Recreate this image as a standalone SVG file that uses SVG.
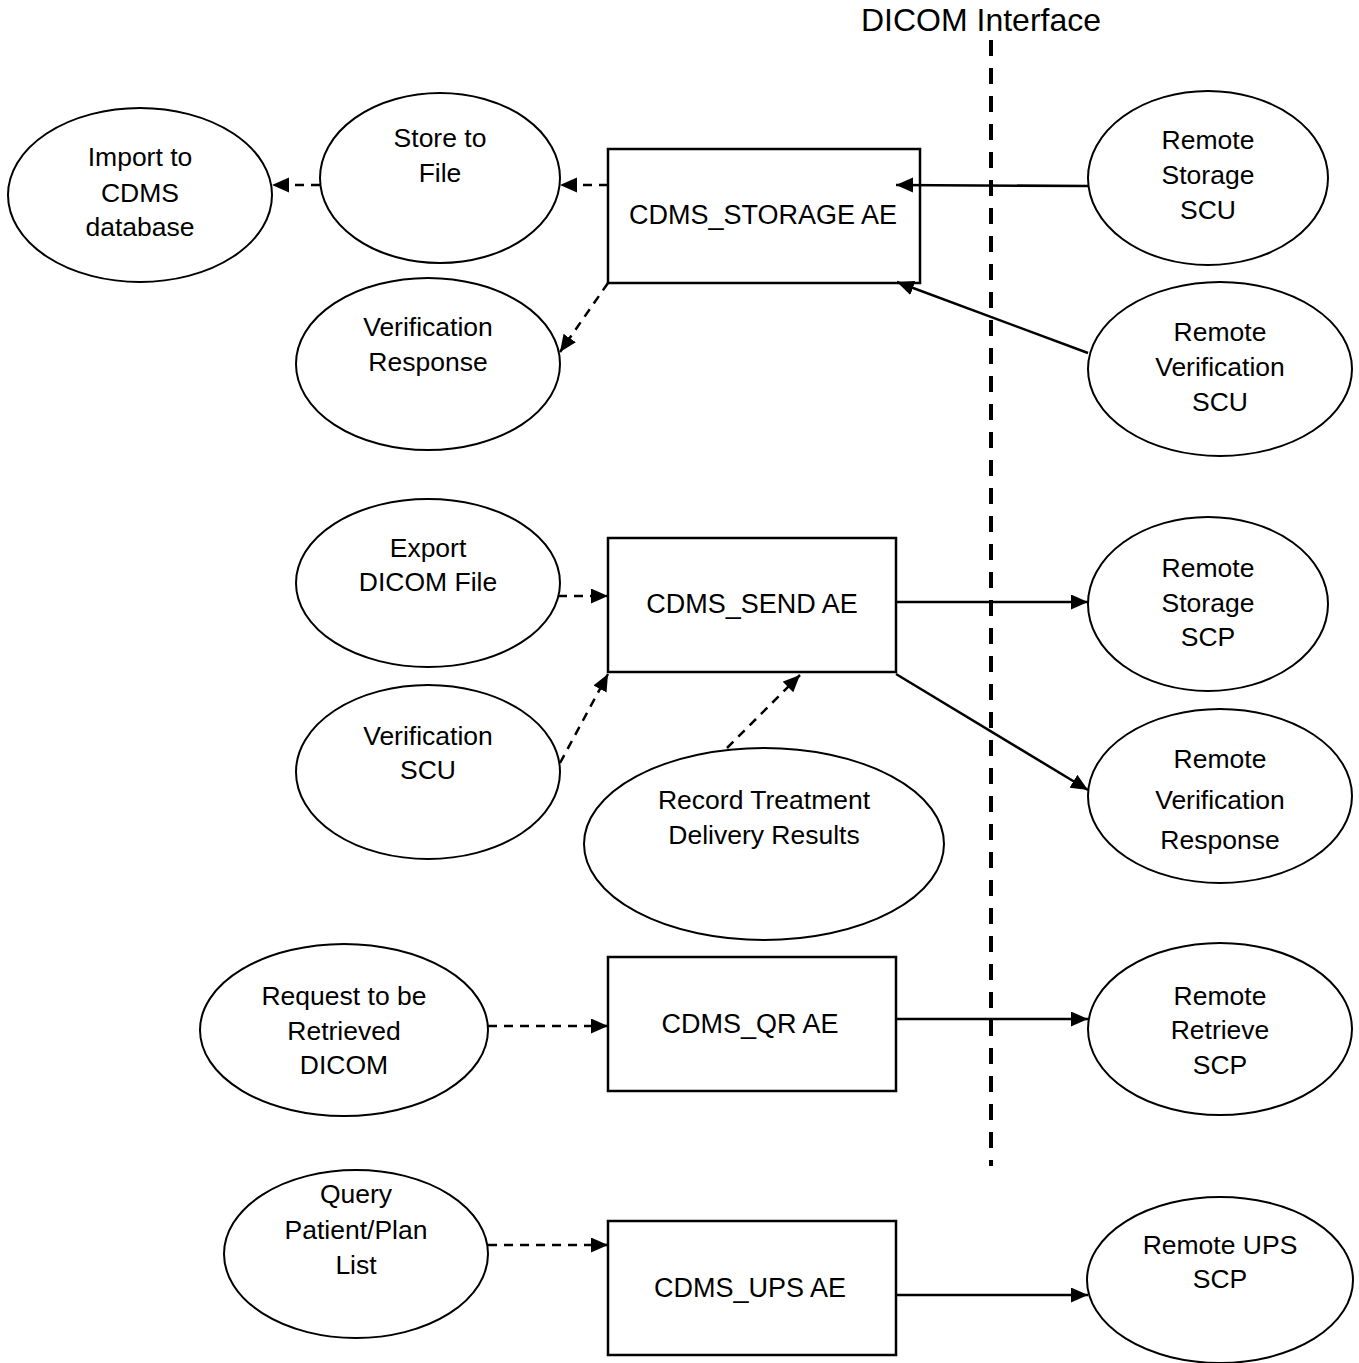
<svg xmlns="http://www.w3.org/2000/svg" width="1359" height="1363" viewBox="0 0 1359 1363">
<style>
text{font-family:"Liberation Sans",Arial,sans-serif;font-size:26.5px;fill:#000;text-anchor:middle}
.box text{font-size:27px}
.title{font-size:32px}
ellipse{fill:#fff;stroke:#000;stroke-width:2}
.box rect{fill:#fff;stroke:#000;stroke-width:2.5}
.c line{stroke:#000;stroke-width:2.5;fill:none}
.c .d{stroke-dasharray:9 7}
.iface{stroke:#000;stroke-width:4;stroke-dasharray:16 12;fill:none}
</style>
<defs>
<marker id="ah" markerUnits="userSpaceOnUse" markerWidth="20" markerHeight="16" refX="17" refY="7.5" orient="auto">
<path d="M0,0 L17,7.5 L0,15 z" fill="#000"/>
</marker>
</defs>
<g id="interface">
<line class="iface" x1="991" y1="40" x2="991" y2="1166"/>
<text class="title" x="981" y="31">DICOM Interface</text>
</g>
<g id="import"><ellipse cx="140" cy="195" rx="132" ry="87"/><text x="140" y="166">Import to</text><text x="140" y="202">CDMS</text><text x="140" y="236">database</text></g>
<g id="storefile"><ellipse cx="440" cy="178" rx="120" ry="85"/><text x="440" y="147">Store to</text><text x="440" y="182">File</text></g>
<g id="verresp"><ellipse cx="428" cy="364" rx="132" ry="86"/><text x="428" y="336">Verification</text><text x="428" y="371">Response</text></g>
<g id="storage" class="box"><rect x="608" y="149" width="312" height="134"/><text x="763" y="224">CDMS_STORAGE AE</text></g>
<g id="rstscu"><ellipse cx="1208" cy="178" rx="120" ry="87"/><text x="1208" y="149">Remote</text><text x="1208" y="184">Storage</text><text x="1208" y="219">SCU</text></g>
<g id="rverscu"><ellipse cx="1220" cy="369" rx="132" ry="87"/><text x="1220" y="341">Remote</text><text x="1220" y="376">Verification</text><text x="1220" y="411">SCU</text></g>
<g id="export"><ellipse cx="428" cy="583" rx="132" ry="84"/><text x="428" y="557">Export</text><text x="428" y="591">DICOM File</text></g>
<g id="send" class="box"><rect x="608" y="538" width="288" height="134"/><text x="752" y="613">CDMS_SEND AE</text></g>
<g id="rstscp"><ellipse cx="1208" cy="604" rx="120" ry="87"/><text x="1208" y="577">Remote</text><text x="1208" y="612">Storage</text><text x="1208" y="646">SCP</text></g>
<g id="verscu"><ellipse cx="428" cy="772" rx="132" ry="87"/><text x="428" y="745">Verification</text><text x="428" y="779">SCU</text></g>
<g id="record"><ellipse cx="764" cy="844" rx="180" ry="96"/><text x="764" y="809">Record Treatment</text><text x="764" y="844">Delivery Results</text></g>
<g id="rverresp"><ellipse cx="1220" cy="796" rx="132" ry="87"/><text x="1220" y="768">Remote</text><text x="1220" y="809">Verification</text><text x="1220" y="849">Response</text></g>
<g id="request"><ellipse cx="344" cy="1030" rx="144" ry="86"/><text x="344" y="1005">Request to be</text><text x="344" y="1040">Retrieved</text><text x="344" y="1074">DICOM</text></g>
<g id="qr" class="box"><rect x="608" y="957" width="288" height="134"/><text x="750" y="1033">CDMS_QR AE</text></g>
<g id="rretscp"><ellipse cx="1220" cy="1029" rx="132" ry="86"/><text x="1220" y="1005">Remote</text><text x="1220" y="1039">Retrieve</text><text x="1220" y="1074">SCP</text></g>
<g id="query"><ellipse cx="356" cy="1254" rx="132" ry="84"/><text x="356" y="1203">Query</text><text x="356" y="1239">Patient/Plan</text><text x="356" y="1274">List</text></g>
<g id="ups" class="box"><rect x="608" y="1221" width="288" height="134"/><text x="750" y="1297">CDMS_UPS AE</text></g>
<g id="rupsscp"><ellipse cx="1220" cy="1280" rx="133" ry="83"/><text x="1220" y="1254">Remote UPS</text><text x="1220" y="1288">SCP</text></g>
<g id="connectors" class="c">
<line class="d" x1="608" y1="185" x2="560" y2="185" marker-end="url(#ah)"/>
<line class="d" x1="320" y1="185" x2="272" y2="185" marker-end="url(#ah)"/>
<line x1="1088" y1="186" x2="896" y2="185" marker-end="url(#ah)"/>
<line x1="1088" y1="353" x2="897" y2="282" marker-end="url(#ah)"/>
<line class="d" x1="608" y1="283" x2="560" y2="352" marker-end="url(#ah)"/>
<line class="d" x1="558" y1="596" x2="608" y2="596" marker-end="url(#ah)"/>
<line x1="896" y1="602" x2="1088" y2="602" marker-end="url(#ah)"/>
<line x1="896" y1="674" x2="1088" y2="790" marker-end="url(#ah)"/>
<line class="d" x1="560" y1="763" x2="608" y2="674" marker-end="url(#ah)"/>
<line class="d" x1="727" y1="748" x2="800" y2="675" marker-end="url(#ah)"/>
<line class="d" x1="488" y1="1026" x2="608" y2="1026" marker-end="url(#ah)"/>
<line x1="896" y1="1019" x2="1088" y2="1019" marker-end="url(#ah)"/>
<line class="d" x1="488" y1="1245" x2="608" y2="1245" marker-end="url(#ah)"/>
<line x1="896" y1="1295" x2="1088" y2="1295" marker-end="url(#ah)"/>
</g>
</svg>
